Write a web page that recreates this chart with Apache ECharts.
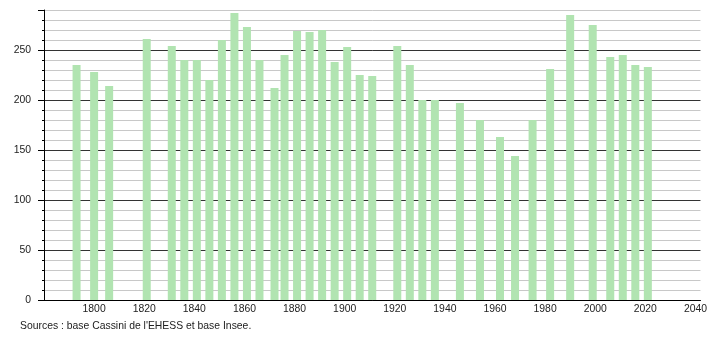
<!DOCTYPE html>
<html>
<head>
<meta charset="utf-8">
<script src="https://cdn.jsdelivr.net/npm/echarts@6/dist/echarts.min.js"></script>
<style>html,body{margin:0;padding:0;background:#fff}#c{width:710px;height:340px}</style>
</head>
<body>
<div id="c"></div>
<script>
var years = [1793,1800,1806,1821,1831,1836,1841,1846,1851,1856,1861,1866,1872,1876,1881,1886,1891,1896,1901,1906,1911,1921,1926,1931,1936,1946,1954,1962,1968,1975,1982,1990,1999,2006,2011,2016,2021];
var population = [235,228,214,261,254,240,240,220,260,287,273,240,212,245,269,268,270,238,253,225,224,254,235,200,200,197,180,163,144,180,231,285,275,243,245,235,233];
var xTicks = [1800,1820,1840,1860,1880,1900,1920,1940,1960,1980,2000,2020,2040];
var yTicks = [0,50,100,150,200,250];
var sourceText = "Sources : base Cassini de l'EHESS et base Insee.";

var data = years.map(function(y,i){return [y, population[i]];});
var chart = echarts.init(document.getElementById('c'));
var font = 'Liberation Sans, Arial, sans-serif';
chart.setOption({
  animation:false,
  grid:{left:44,right:9,top:10,bottom:40,containLabel:false},
  xAxis:{type:'value',min:1780,max:2042,interval:20,
    axisLine:{show:true,lineStyle:{color:'#000',width:1}},
    axisTick:{show:false},
    splitLine:{show:false},
    axisLabel:{color:'#222',fontSize:10.4,fontFamily:font,margin:4,
      formatter:function(v){return xTicks.indexOf(v)>=0?String(v):'';}}
  },
  yAxis:[{type:'value',min:0,max:290,interval:10,
    axisLine:{show:true,lineStyle:{color:'#000'}},
    axisTick:{show:true,length:2,lineStyle:{color:'#000'}},
    axisLabel:{show:false},
    splitLine:{show:true,lineStyle:{color:['#333','#c8c8c8','#c8c8c8','#c8c8c8','#c8c8c8'],width:1}}
  },{type:'value',min:0,max:290,interval:50,position:'left',
    axisLine:{show:false},
    axisTick:{show:true,length:6,lineStyle:{color:'#000'},
      interval:function(i,v){return yTicks.indexOf(Number(v))>=0;}},
    splitLine:{show:false},
    axisLabel:{color:'#222',fontSize:10.4,fontFamily:font,margin:13,
      formatter:function(v){return yTicks.indexOf(v)>=0?String(v):'';}}
  }],
  series:[{type:'bar',data:data,barWidth:8,itemStyle:{color:'#b1e4b1'},silent:true}],
  graphic:[{type:'text',left:20,top:321,style:{text:sourceText,fontSize:10.4,fontFamily:font,fill:'#222'}}]
});
</script>
</body>
</html>
